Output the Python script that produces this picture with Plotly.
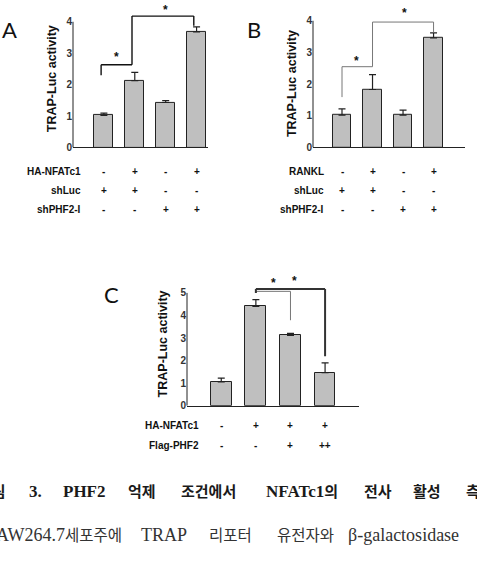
import plotly.graph_objects as go

W, H = 477, 578

# ---------------- data ----------------
a_vals = [1.02, 2.13, 1.43, 3.68]
a_err = [0.07, 0.26, 0.06, 0.16]
a_rows = ["HA-NFATc1", "shLuc", "shPHF2-I"]
a_signs = [["-", "+", "-", "+"], ["+", "+", "-", "-"], ["-", "-", "+", "+"]]
a_sig = [(0, 1, 2.63, 2.30, 2.63, 2.88), (1, 3, 4.18, 2.63, 3.87, 4.39)]

b_vals = [1.02, 1.83, 1.02, 3.46]
b_err = [0.20, 0.47, 0.16, 0.16]
b_rows = ["RANKL", "shLuc", "shPHF2-I"]
b_signs = [["-", "+", "-", "+"], ["+", "+", "-", "-"], ["-", "-", "+", "+"]]
b_sig = [(0, 1, 2.55, 1.59, 2.55, 2.73), (1, 3, 3.96, 2.55, 3.64, 4.26)]

c_vals = [1.06, 4.40, 3.12, 1.47]
c_err = [0.16, 0.30, 0.09, 0.43]
c_rows = ["HA-NFATc1", "Flag-PHF2"]
c_signs = [["-", "+", "+", "+"], ["-", "-", "+", "++"]]
c_sig = [(1, 2, 5.07, 5.00, 3.79, 5.46), (1, 3, 5.17, 5.00, 2.19, 5.54)]

y_title = "TRAP-Luc activity"

# caption words: (latin part, hangul part)
caption1 = [("", "그림"), ("3.", ""), ("PHF2", ""), ("", "억제"), ("", "조건에서"),
            ("NFATc1", "의"), ("", "전사"), ("", "활성"), ("", "측정")]
caption2 = [("RAW264.7", "세포주에"), ("TRAP", ""), ("", "리포터"), ("", "유전자와"),
            ("β-galactosidase", "")]

# ---------------- layout helpers ----------------
def px(x):
    return x / W

def py(y):
    return 1 - y / H

panels = [
    dict(name="A", vals=a_vals, err=a_err, rows=a_rows, signs=a_signs, sig=a_sig,
         xl=73, xr=208, zero=149, top_tick=4, top_px=22, xr_range=[-1.0, 3.37], ymax=4.6,
         bw=0.62, letter=(9, 30), title=(52, 80), row_right=82, row_y=[173, 193, 212],
         sig_dx=-0.09, sig_style=[("#111", 1.4), ("#111", 1.4)]),
    dict(name="B", vals=b_vals, err=b_err, rows=b_rows, signs=b_signs, sig=b_sig,
         xl=313, xr=465, zero=149, top_tick=4, top_px=21, xr_range=[-0.95, 4.03], ymax=4.6,
         bw=0.61, letter=(254, 30), title=(292, 85), row_right=325, row_y=[173, 193, 212],
         sig_dx=0.0, sig_style=[("#777", 1.0), ("#777", 1.0)]),
    dict(name="C", vals=c_vals, err=c_err, rows=c_rows, signs=c_signs, sig=c_sig,
         xl=187, xr=359, zero=410, top_tick=5, top_px=296, xr_range=[-0.99, 3.98], ymax=5.75,
         bw=0.60, letter=(111, 298), title=(163, 348), row_right=200, row_y=[430, 450],
         sig_dx=0.0, sig_style=[("#777", 1.0), ("#333", 2.0)]),
]

fig = go.Figure()
shapes = []
annotations = []
sans = "Liberation Sans, Arial, sans-serif"
serif = "Liberation Serif, Noto Sans CJK KR, serif"


def ann(text, x, y, xref="paper", yref="paper", xanchor="center", yanchor="middle", **kw):
    d = dict(text=text, x=x, y=y, xref=xref, yref=yref, xanchor=xanchor, yanchor=yanchor,
             showarrow=False, borderpad=0)
    d.update(kw)
    annotations.append(d)


for k, p in enumerate(panels):
    idx = "" if k == 0 else str(k + 1)
    xa, ya = "x" + idx, "y" + idx
    xs = list(range(len(p["vals"])))
    fig.add_trace(go.Bar(
        x=xs, y=p["vals"], xaxis=xa, yaxis=ya, width=p["bw"],
        marker=dict(color="#bfbfbf", line=dict(color="#222", width=1)),
        error_y=dict(type="data", array=p["err"], arrayminus=[0] * len(xs), symmetric=False,
                     color="#222", thickness=1.2, width=3.5),
        showlegend=False, hoverinfo="skip",
    ))
    ppu = (p["zero"] - p["top_px"]) / p["top_tick"]
    dom_top = p["zero"] - p["ymax"] * ppu
    fig.layout["xaxis" + idx] = dict(
        domain=[px(p["xl"]), px(p["xr"])], range=p["xr_range"], anchor=ya,
        showline=True, linecolor="#222", linewidth=1, showticklabels=False,
        showgrid=False, zeroline=False, ticks="",
    )
    fig.layout["yaxis" + idx] = dict(
        domain=[py(p["zero"]), py(dom_top)], range=[0, p["ymax"]], anchor=xa,
        showline=False, showgrid=False, zeroline=False,
        tickvals=list(range(p["top_tick"] + 1)), ticks="",
        tickfont=dict(family=sans, size=10, color="#333", weight="bold"),
    )
    # y axis line up to the top tick
    shapes.append(dict(type="line", xref="paper", yref=ya, x0=px(p["xl"]), x1=px(p["xl"]),
                       y0=0, y1=p["top_tick"], line=dict(color="#222", width=1)))
    # significance brackets
    for (i, j, top, ldrop, rdrop, sy), (col, lw) in zip(p["sig"], p["sig_style"]):
        xi, xj = i + p["sig_dx"], j + p["sig_dx"]
        line = dict(color=col, width=lw)
        shapes.append(dict(type="line", xref=xa, yref=ya, x0=xi, x1=xj, y0=top, y1=top, line=line))
        shapes.append(dict(type="line", xref=xa, yref=ya, x0=xi, x1=xi, y0=top, y1=ldrop, line=line))
        shapes.append(dict(type="line", xref=xa, yref=ya, x0=xj, x1=xj, y0=top, y1=rdrop, line=line))
    # stars
    star_x = {"A": [0.41, 2.0], "B": [0.46, 2.04], "C": [1.5, 2.12]}[p["name"]]
    for sx, s in zip(star_x, p["sig"]):
        ann("*", sx, s[5], xref=xa, yref=ya,
            font=dict(family=sans, size=12, color="#111", weight="bold"))
    # panel letter
    ann(p["name"], px(p["letter"][0]), py(p["letter"][1]),
        font=dict(family="Lato, Open Sans, sans-serif", size=22, color="#111"))
    # y title
    ann(y_title, px(p["title"][0]), py(p["title"][1]), textangle=-90,
        font=dict(family=sans, size=12.5, color="#111", weight="bold"))
    # row labels and signs
    for r, (lab, sg) in enumerate(zip(p["rows"], p["signs"])):
        ann(lab, px(p["row_right"]), py(p["row_y"][r]), xanchor="right",
            font=dict(family=sans, size=10, color="#111", weight="bold"))
        for ci, s in enumerate(sg):
            ann(s, ci, py(p["row_y"][r]), xref=xa,
                font=dict(family=sans, size=10, color="#111", weight="bold"))


def mixed(latin, hangul, lsize, hsize):
    out = ""
    if latin:
        out += f'<span style="font-size:{lsize}px">{latin}</span>'
    if hangul:
        out += f'<span style="font-size:{hsize}px">{hangul}</span>'
    return out


# caption lines (cropped at both edges like the source)
cap1_pos = [(7, "right"), (35, "center"), (84.5, "center"), (142, "center"), (208.5, "center"),
            (301.5, "center"), (378, "center"), (426.5, "center"), (465, "left")]
for (lat, han), (x, anc) in zip(caption1, cap1_pos):
    ann(mixed(lat, han, 17, 15), px(x), py(497), xanchor=anc,
        font=dict(family=serif, size=15, color="#1a1a1a", weight="bold"))
cap2_pos = [(123, "right"), (163.5, "center"), (230, "center"), (305, "center"), (347, "left")]
for (lat, han), (x, anc) in zip(caption2, cap2_pos):
    ann(mixed(lat, han, 18, 15.5), px(x), py(541), xanchor=anc,
        font=dict(family=serif, size=15.5, color="#333"))

fig.update_layout(
    width=W, height=H, margin=dict(l=0, r=0, t=0, b=0),
    paper_bgcolor="white", plot_bgcolor="white",
    shapes=shapes, annotations=annotations, bargap=0,
)

fig.write_html("out.html", config={"displayModeBar": False})
